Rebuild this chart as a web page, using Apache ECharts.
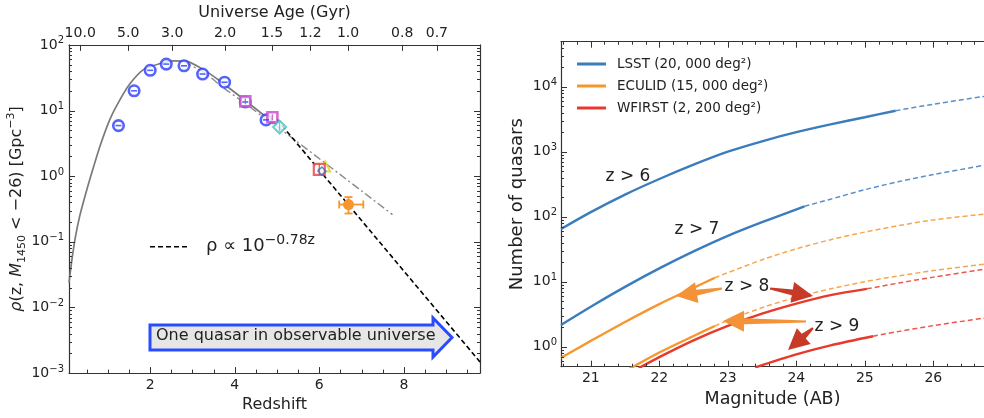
<!DOCTYPE html>
<html><head><meta charset="utf-8">
<script src="https://cdn.jsdelivr.net/npm/echarts@6/dist/echarts.min.js"></script>
<style>html,body{margin:0;padding:0;background:#fff}#c{width:984px;height:418px}</style>
</head><body><div id="c"></div>
<script>
// ================= LEFT PANEL DATA =================
const ageTickLabels   = ['10.0','5.0','3.0','2.0','1.5','1.2','1.0','0.8','0.7'];
const ageTickRedshift = [0.345, 1.48, 2.52, 3.77, 4.88, 5.79, 6.68, 7.96, 8.78];
const redshiftLabels  = [2, 4, 6, 8];
const densityDecades  = [0.001, 0.01, 0.1, 1, 10, 100];

const blueZ   = [1.25, 1.62, 2.0, 2.38, 2.80, 3.24, 3.76, 4.25, 4.74];
const blueRho = [5.9, 20, 41, 51, 48, 36, 27, 13.5, 7.2];
const magentaZ = [4.25, 4.89];
const magentaRho = [13.8, 7.9];
const cyanZ = [5.06];
const cyanRho = [5.6];
const redSquareZ = [6.0];
const redSquareRho = [1.27];
const smallDiamondZ = [6.06];
const smallDiamondRho = [1.2];
const yellowTriZ = [6.14];
const yellowTriRho = [1.4];
const orangeZ = [6.69], orangeRho = [0.37];
const orangeZLow = [6.47], orangeZHigh = [7.04];
const orangeRhoLow = [0.27], orangeRhoHigh = [0.48];

const modelZ   = [0.08, 0.15, 0.23, 0.34, 0.46, 0.58, 0.82, 1.05, 1.29, 1.53, 1.84, 2.24, 2.55, 2.87, 3.26, 3.65, 4.25, 4.74, 5.0];
const modelRho = [0.024, 0.054, 0.117, 0.257, 0.50, 0.93, 2.95, 7.4, 14.8, 26, 42, 52, 57, 56, 42, 28.2, 14.2, 8.0, 6.0];
const dashDotZ   = [2.8, 3.3, 3.7, 4.25, 4.75, 5.05, 7.73];
const dashDotRho = [55, 37, 23, 12.8, 7.3, 5.4, 0.26];
const fitZ   = [4.99, 9.8];
const fitRho = [7.4, 0.00148];

// ================= RIGHT PANEL DATA =================
const magLabels = [21, 22, 23, 24, 25, 26];
const countDecades = [1, 10, 100, 1000, 10000];
const surveyNames = ['LSST (20, 000 deg²)', 'ECULID (15, 000 deg²)', 'WFIRST (2, 200 deg²)'];

const lsst6Mag   = [20.565, 21.0, 21.5, 22.0, 22.5, 23.0, 23.5, 24.0, 24.5, 25.0, 25.45];
const lsst6N     = [64.6, 117.5, 218.8, 380.2, 631, 1000, 1445, 1995, 2630, 3388, 4266];
const lsst6ExtMag = [25.45, 26.0, 26.74];
const lsst6ExtN   = [4266, 5370, 7079];

const lsst7Mag   = [20.565, 21.0, 21.5, 22.0, 22.5, 23.0, 23.5, 24.12];
const lsst7N     = [2.16, 4.12, 8.32, 16.0, 29.2, 50.7, 82.2, 144.5];
const lsst7ExtMag = [24.12, 24.5, 25.0, 25.5, 26.0, 26.74];
const lsst7ExtN   = [144.5, 186, 260, 347, 444, 617];

const euclid8Mag = [20.565, 21.0, 21.5, 22.0, 22.5, 22.81];
const euclid8N   = [0.676, 1.227, 2.40, 4.52, 8.04, 11.5];
const euclid8ExtMag = [22.81, 23.5, 24.0, 24.5, 25.0, 25.5, 26.0, 26.74];
const euclid8ExtN   = [11.5, 21.7, 32.0, 44.2, 57.9, 72.9, 89.1, 109.6];

const euclid9Mag = [21.55, 22.0, 22.5, 22.81];
const euclid9N   = [0.447, 0.813, 1.46, 2.08];
const euclid9ExtMag = [22.81, 23.0, 23.5, 24.0, 24.5, 25.0, 25.5, 26.0, 26.74];
const euclid9ExtN   = [2.08, 2.54, 3.98, 5.75, 7.76, 10.0, 12.3, 14.8, 18.6];

const wfirst8Mag = [21.7, 22.0, 22.5, 23.0, 23.5, 24.0, 24.5, 25.03];
const wfirst8N   = [0.468, 0.692, 1.253, 2.09, 3.22, 4.60, 6.21, 7.76];
const wfirst8ExtMag = [25.03, 25.5, 26.0, 26.74];
const wfirst8ExtN   = [7.76, 9.55, 11.75, 15.5];

const wfirst9Mag = [23.4, 24.0, 24.5, 25.12];
const wfirst9N   = [0.479, 0.759, 1.047, 1.445];
const wfirst9ExtMag = [25.12, 25.5, 26.0, 26.74];
const wfirst9ExtN   = [1.445, 1.72, 2.11, 2.75];

// ================= helpers =================
const zip = (a, b) => a.map((v, i) => [v, b[i]]);
function logMinor(min, max) {
  const out = [];
  for (let k = Math.floor(Math.log10(min)); k <= Math.ceil(Math.log10(max)); k++)
    for (let m = 2; m <= 9; m++) { const v = m * Math.pow(10, k); if (v >= min && v <= max) out.push(+v.toPrecision(3)); }
  return out;
}
function steps(a, b, s) { const o = []; for (let v = a; v <= b + 1e-9; v += s) o.push(+v.toFixed(2)); return o; }

const FONT = 'DejaVu Sans';
const AXC = '#333';
const TXT = '#222';
const C_LSST = '#3b7cbd', C_EUC = '#f7962c', C_WF = '#e8392b';

const L_YMIN = 0.001, L_YMAX = 100, L_XMIN = 0.08, L_XMAX = 9.8;
const R_YMIN = 0.492, R_YMAX = 49200, R_XMIN = 20.565, R_XMAX = 26.74;

const redshiftMinor = steps(0.5, 9.5, 0.5);
const leftMinor = logMinor(L_YMIN, L_YMAX);
const rightMinor = logMinor(R_YMIN, R_YMAX);
const magMinor = steps(20.6, 26.6, 0.2);

function logLabel(v) { const e = Math.round(Math.log10(v)); return '10{s|' + (e < 0 ? '−' + (-e) : e) + '}'; }
const labRich = { s: { fontSize: 10, verticalAlign: 'top', lineHeight: 10, fontFamily: FONT, color: TXT } };
const axisLineStyle = { show: true, onZero: false, lineStyle: { color: AXC, width: 1.2 } };
const noTick = { show: false };

// ================= axes =================
const xAxes = [
  { gridIndex: 0, type: 'value', min: L_XMIN, max: L_XMAX, position: 'bottom',
    axisLine: axisLineStyle, splitLine: { show: false }, axisTick: noTick,
    axisLabel: { customValues: redshiftLabels, fontSize: 14, color: TXT, fontFamily: FONT, margin: 5 },
    name: 'Redshift', nameLocation: 'middle', nameGap: 20,
    nameTextStyle: { fontSize: 16, color: TXT, fontFamily: FONT } },
  { gridIndex: 0, type: 'value', min: L_XMIN, max: L_XMAX, position: 'top',
    axisLine: axisLineStyle, splitLine: { show: false }, axisTick: noTick,
    axisLabel: { customValues: ageTickRedshift, fontSize: 14, color: TXT, fontFamily: FONT, margin: 5,
      formatter: v => { const i = ageTickRedshift.findIndex(z => Math.abs(z - v) < 1e-6); return i >= 0 ? ageTickLabels[i] : ''; } },
    name: 'Universe Age (Gyr)', nameLocation: 'middle', nameGap: 22,
    nameTextStyle: { fontSize: 16, color: TXT, fontFamily: FONT } },
  { gridIndex: 1, type: 'value', min: R_XMIN, max: R_XMAX, position: 'bottom',
    axisLine: axisLineStyle, splitLine: { show: false }, axisTick: noTick,
    axisLabel: { customValues: magLabels, fontSize: 14, color: TXT, fontFamily: FONT, margin: 5 },
    name: 'Magnitude (AB)', nameLocation: 'middle', nameGap: 20,
    nameTextStyle: { fontSize: 17.5, color: TXT, fontFamily: FONT } },
  { gridIndex: 1, type: 'value', min: R_XMIN, max: R_XMAX, position: 'top',
    axisLine: axisLineStyle, splitLine: { show: false }, axisLabel: { show: false }, axisTick: noTick }
];

const yAxes = [
  { gridIndex: 0, type: 'log', min: L_YMIN, max: L_YMAX, position: 'left',
    axisLine: axisLineStyle, splitLine: { show: false }, axisTick: noTick,
    axisLabel: { customValues: densityDecades, formatter: logLabel, rich: labRich, fontSize: 14, lineHeight: 18, color: TXT, fontFamily: FONT, margin: 5 },
    name: '{i|ρ}(z, {i|M}{sub|1450} < −26) [Gpc{sup|−3}]', nameLocation: 'middle', nameGap: 38,
    nameTextStyle: { fontSize: 16, color: TXT, fontFamily: FONT, lineHeight: 22,
      rich: { i: { fontStyle: 'italic', fontSize: 16, fontFamily: FONT, color: TXT },
              sub: { fontSize: 11, verticalAlign: 'bottom', lineHeight: 11, fontFamily: FONT, color: TXT },
              sup: { fontSize: 11, verticalAlign: 'top', lineHeight: 11, fontFamily: FONT, color: TXT } } } },
  { gridIndex: 0, type: 'log', min: L_YMIN, max: L_YMAX, position: 'right',
    axisLine: axisLineStyle, splitLine: { show: false }, axisLabel: { show: false }, axisTick: noTick },
  { gridIndex: 1, type: 'log', min: R_YMIN, max: R_YMAX, position: 'left',
    axisLine: axisLineStyle, splitLine: { show: false }, axisTick: noTick,
    axisLabel: { customValues: countDecades, formatter: logLabel, rich: labRich, fontSize: 14, lineHeight: 18, color: TXT, fontFamily: FONT, margin: 4 },
    name: 'Number of quasars', nameLocation: 'middle', nameGap: 35,
    nameTextStyle: { fontSize: 18, color: TXT, fontFamily: FONT } }
];

// ================= tick marks (drawn through the axes' own scales) =================
// item: [x, y, orientation(0 = x tick, 1 = y tick), length, sides(1 = bottom/left, 2 = top/right, 3 = both)]
function tickItems(values, orient, len, sides, other) {
  return values.map(v => orient === 0 ? [v, other, 0, len, sides] : [other, v, 1, len, sides]);
}
const leftTickData = [].concat(
  tickItems(redshiftLabels, 0, 6, 1, 1),
  tickItems(redshiftMinor.filter(v => redshiftLabels.indexOf(v) < 0), 0, 3.5, 1, 1),
  tickItems(ageTickRedshift, 0, 6, 2, 1),
  tickItems(densityDecades, 1, 6, 3, 1),
  tickItems(leftMinor, 1, 3, 3, 1)
);
const rightTickData = [].concat(
  tickItems(magLabels, 0, 6, 3, 1),
  tickItems(magMinor.filter(v => Math.abs(v - Math.round(v)) > 1e-6), 0, 3, 3, 1),
  tickItems(countDecades, 1, 6, 1, 21),
  tickItems(rightMinor, 1, 3, 1, 21)
);
function renderTick(params, api) {
  const cs = params.coordSys;
  const p = api.coord([api.value(0), api.value(1)]);
  const o = api.value(2), len = api.value(3), sides = api.value(4);
  const st = { stroke: AXC, lineWidth: 1 };
  const kids = [];
  if (o === 0) {
    const x = Math.round(p[0]) + 0.5;
    if (sides & 1) kids.push({ type: 'line', shape: { x1: x, y1: cs.y + cs.height, x2: x, y2: cs.y + cs.height - len }, style: st });
    if (sides & 2) kids.push({ type: 'line', shape: { x1: x, y1: cs.y, x2: x, y2: cs.y + len }, style: st });
  } else {
    const y = Math.round(p[1]) + 0.5;
    if (sides & 1) kids.push({ type: 'line', shape: { x1: cs.x, y1: y, x2: cs.x + len, y2: y }, style: st });
    if (sides & 2) kids.push({ type: 'line', shape: { x1: cs.x + cs.width, y1: y, x2: cs.x + cs.width - len, y2: y }, style: st });
  }
  return { type: 'group', children: kids };
}

// ================= series =================
function lineS(name, data, color, opts) {
  return Object.assign({
    name, type: 'line', xAxisIndex: 2, yAxisIndex: 2, data, symbol: 'none', smooth: 0.3,
    lineStyle: { color, width: 2.4 }, itemStyle: { color }, clip: true, z: 3, animation: false
  }, opts || {});
}
function extS(name, data, color) {
  return lineS(name, data, color, { lineStyle: { color, width: 1.5, type: [5, 3], opacity: 0.85 } });
}
function scat(name, data, symbol, size, color, opts) {
  return Object.assign({
    name, type: 'scatter', xAxisIndex: 0, yAxisIndex: 0, data, symbol, symbolSize: size,
    itemStyle: { color: '#fff', borderColor: color, borderWidth: 2.6 }, z: 6, animation: false
  }, opts || {});
}

const series = [
  { name: 'leftTicks', type: 'custom', xAxisIndex: 0, yAxisIndex: 0, data: leftTickData, renderItem: renderTick, z: 10, silent: true, animation: false },
  { name: 'rightTicks', type: 'custom', xAxisIndex: 2, yAxisIndex: 2, data: rightTickData, renderItem: renderTick, z: 10, silent: true, animation: false },
  { name: 'model', type: 'line', xAxisIndex: 0, yAxisIndex: 0, data: zip(modelZ, modelRho), symbol: 'none', smooth: 0.2,
    lineStyle: { color: '#7a7a7a', width: 1.7 }, z: 2, animation: false },
  { name: 'model2', type: 'line', xAxisIndex: 0, yAxisIndex: 0, data: zip(dashDotZ, dashDotRho), symbol: 'none', smooth: 0.3,
    lineStyle: { color: '#8a8a8a', width: 1.4, type: [8, 3, 2, 3] }, z: 2, animation: false },
  { name: 'fit', type: 'line', xAxisIndex: 0, yAxisIndex: 0, data: zip(fitZ, fitRho), symbol: 'none',
    lineStyle: { color: '#000', width: 1.6, type: [5, 3] }, z: 3, animation: false },
  scat('blue', zip(blueZ, blueRho), 'circle', 10.5, '#2a3cff'),
  scat('blueBar', zip(blueZ, blueRho), 'rect', [6, 1.6], '#2a3cff', { itemStyle: { color: '#2a3cff' }, z: 7 }),
  scat('magenta', zip(magentaZ, magentaRho), 'rect', 10, '#c848c8'),
  scat('magentaBar', zip(magentaZ, magentaRho), 'rect', [1.4, 6], '#c848c8', { itemStyle: { color: '#c848c8' }, z: 7 }),
  scat('cyan', zip(cyanZ, cyanRho), 'diamond', 13, '#48c0c0', { itemStyle: { color: '#fff', borderColor: '#48c0c0', borderWidth: 2 } }),
  scat('cyanBar', zip(cyanZ, cyanRho), 'rect', [1.4, 9], '#48c0c0', { itemStyle: { color: '#48c0c0' }, z: 7 }),
  scat('yellow', zip(yellowTriZ, yellowTriRho), 'triangle', 10, '#d8d020', { itemStyle: { color: '#fff', borderColor: '#d8d020', borderWidth: 2 } }),
  scat('redSq', zip(redSquareZ, redSquareRho), 'rect', 11, '#e84040', { itemStyle: { color: '#fff', borderColor: '#e84040', borderWidth: 2.2 } }),
  scat('redBar', zip(redSquareZ, redSquareRho), 'rect', [1.4, 12], '#e84040', { itemStyle: { color: '#e84040' }, z: 7 }),
  scat('smallDiamond', zip(smallDiamondZ, smallDiamondRho), 'diamond', 8, '#3a6ad8', { itemStyle: { color: 'rgba(0,0,0,0)', borderColor: '#3a6ad8', borderWidth: 1.5 }, z: 8 }),
  { name: 'orangeErr', type: 'custom', xAxisIndex: 0, yAxisIndex: 0, z: 6, animation: false,
    data: orangeZ.map((z, i) => [z, orangeRho[i], orangeZLow[i], orangeZHigh[i], orangeRhoLow[i], orangeRhoHigh[i]]),
    renderItem: (params, api) => {
      const c = api.coord([api.value(0), api.value(1)]);
      const xl = api.coord([api.value(2), api.value(1)])[0], xh = api.coord([api.value(3), api.value(1)])[0];
      const yl = api.coord([api.value(0), api.value(4)])[1], yh = api.coord([api.value(0), api.value(5)])[1];
      const st = { stroke: '#f7962c', lineWidth: 1.8 };
      return { type: 'group', children: [
        { type: 'line', shape: { x1: xl, y1: c[1], x2: xh, y2: c[1] }, style: st },
        { type: 'line', shape: { x1: c[0], y1: yl, x2: c[0], y2: yh }, style: st },
        { type: 'line', shape: { x1: xl, y1: c[1] - 4, x2: xl, y2: c[1] + 4 }, style: st },
        { type: 'line', shape: { x1: xh, y1: c[1] - 4, x2: xh, y2: c[1] + 4 }, style: st },
        { type: 'line', shape: { x1: c[0] - 4, y1: yl, x2: c[0] + 4, y2: yl }, style: st },
        { type: 'line', shape: { x1: c[0] - 4, y1: yh, x2: c[0] + 4, y2: yh }, style: st },
        { type: 'circle', shape: { cx: c[0], cy: c[1], r: 5.5 }, style: { fill: '#f7962c' } }
      ] };
    } },

  lineS(surveyNames[0], zip(lsst6Mag, lsst6N), C_LSST),
  extS('LSST z>6 ext', zip(lsst6ExtMag, lsst6ExtN), C_LSST),
  lineS('LSST z>7', zip(lsst7Mag, lsst7N), C_LSST),
  extS('LSST z>7 ext', zip(lsst7ExtMag, lsst7ExtN), C_LSST),
  lineS(surveyNames[1], zip(euclid8Mag, euclid8N), C_EUC),
  extS('EUC z>8 ext', zip(euclid8ExtMag, euclid8ExtN), C_EUC),
  lineS('EUC z>9', zip(euclid9Mag, euclid9N), C_EUC),
  extS('EUC z>9 ext', zip(euclid9ExtMag, euclid9ExtN), C_EUC),
  lineS(surveyNames[2], zip(wfirst8Mag, wfirst8N), C_WF),
  extS('WF z>8 ext', zip(wfirst8ExtMag, wfirst8ExtN), C_WF),
  lineS('WF z>9', zip(wfirst9Mag, wfirst9N), C_WF),
  extS('WF z>9 ext', zip(wfirst9ExtMag, wfirst9ExtN), C_WF)
];

// ================= annotations =================
function arrowPoly(x1, y1, x2, y2, w0, w1, hw, hl) {
  const dx = x2 - x1, dy = y2 - y1, L = Math.hypot(dx, dy);
  const ux = dx / L, uy = dy / L, nx = -uy, ny = ux;
  const bx = x2 - ux * hl, by = y2 - uy * hl;
  return [
    [x1 + nx * w0 / 2, y1 + ny * w0 / 2], [bx + nx * w1 / 2, by + ny * w1 / 2], [bx + nx * hw / 2, by + ny * hw / 2],
    [x2, y2],
    [bx - nx * hw / 2, by - ny * hw / 2], [bx - nx * w1 / 2, by - ny * w1 / 2], [x1 - nx * w0 / 2, y1 - ny * w0 / 2]
  ];
}
const C_ARO = '#f39237', C_ARR = '#c83a28';
const arrows = [
  { p: [722, 288.5, 676, 296], c: C_ARO },
  { p: [770, 288.5, 813, 296], c: C_ARR },
  { p: [806, 321.5, 723, 321], c: C_ARO },
  { p: [813, 328, 788, 350], c: C_ARR }
];
const labels = [
  { t: 'z > 6', x: 628, y: 177 }, { t: 'z > 7', x: 697, y: 230 },
  { t: 'z > 8', x: 747, y: 287 }, { t: 'z > 9', x: 837, y: 327 }
];

const graphic = [
  { type: 'polygon', z: 20, shape: { points: [[150, 325], [433, 325], [433, 318], [452, 337.5], [433, 357], [433, 350], [150, 350]] },
    style: { fill: '#e6e6e6', stroke: '#2a4cff', lineWidth: 3, lineJoin: 'miter' } },
  { type: 'text', z: 21, left: 156, top: 328, style: { text: 'One quasar in observable universe', fontSize: 16, fontFamily: FONT, fill: TXT } },
  { type: 'line', z: 20, shape: { x1: 150, y1: 246.7, x2: 190, y2: 246.7 }, style: { stroke: '#000', lineWidth: 1.6, lineDash: [5, 3] } },
  { type: 'text', z: 20, left: 206, top: 233, style: { text: 'ρ ∝ 10{s|−0.78z}', fontSize: 18, lineHeight: 26, fontFamily: FONT, fill: TXT,
      rich: { s: { fontSize: 14, verticalAlign: 'top', lineHeight: 14, fontFamily: FONT, fill: TXT } } } }
];
arrows.forEach(a => graphic.push({ type: 'polygon', z: 20, shape: { points: arrowPoly(a.p[0], a.p[1], a.p[2], a.p[3], 2, 6, 21, 21) }, style: { fill: a.c } }));
labels.forEach(l => graphic.push({ type: 'text', z: 21, x: l.x, y: l.y, style: { text: l.t, fontSize: 17, fontFamily: FONT, fill: TXT, align: 'center', verticalAlign: 'middle' } }));

const chart = echarts.init(document.getElementById('c'));
chart.setOption({
  backgroundColor: '#fff',
  animation: false,
  grid: [
    { left: 69, right: 504, top: 44, bottom: 40.5 },
    { left: 561, right: -3, top: 41.7, bottom: 51.3 }
  ],
  legend: {
    data: surveyNames, orient: 'vertical', left: 572, top: 52, itemWidth: 29, itemHeight: 3, itemGap: 8,
    icon: 'rect', textStyle: { fontSize: 13.5, fontFamily: FONT, color: TXT, padding: [0, 0, 0, 6] }, selectedMode: false
  },
  xAxis: xAxes,
  yAxis: yAxes,
  series,
  graphic
});
</script></body></html>
